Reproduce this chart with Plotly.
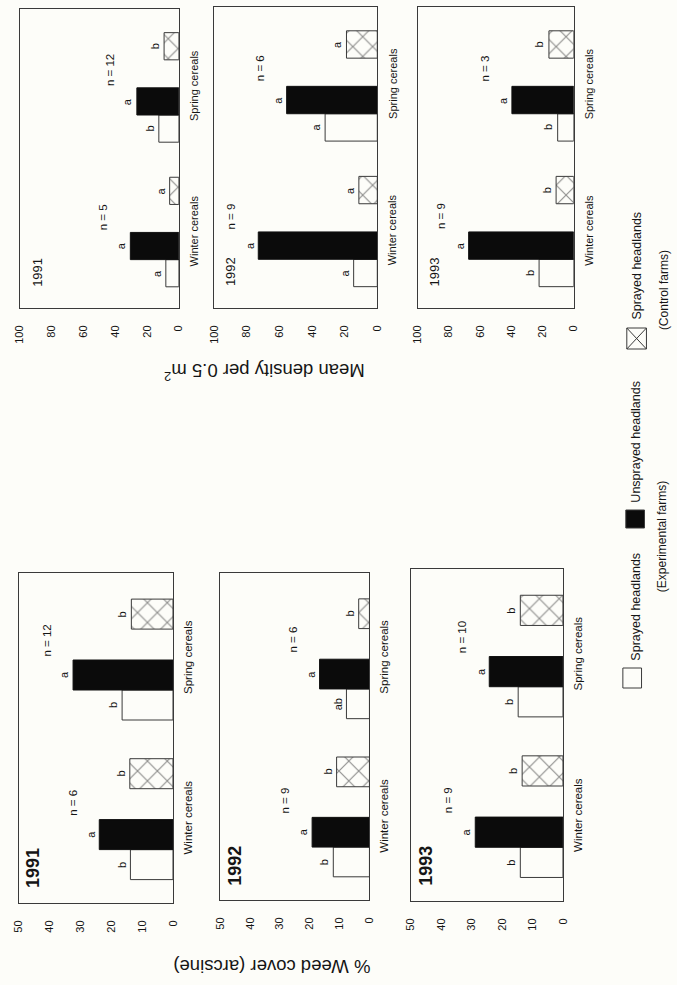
import plotly.graph_objects as go

# ---------------- data ----------------
years = ["1991", "1992", "1993"]
categories = ["Winter cereals", "Spring cereals"]

# Mean density per 0.5 m2 ; per year: [winter, spring]
density_sprayed = [[8.2, 12.6], [14.5, 32.0], [22.2, 10.3]]
density_unsprayed = [[30.5, 26.4], [73.0, 55.6], [67.3, 39.6]]
density_control = [[5.8, 9.3], [11.3, 18.9], [11.3, 15.9]]
density_letters_sprayed = [["a", "b"], ["a", "a"], ["b", "b"]]
density_letters_unsprayed = [["a", "a"], ["a", "a"], ["a", "a"]]
density_letters_control = [["a", "b"], ["a", "a"], ["b", "b"]]
density_n = [[5, 12], [9, 6], [9, 3]]

# % weed cover (arcsine) ; per year: [winter, spring]
cover_sprayed = [[13.8, 16.5], [12.1, 7.7], [14.0, 14.7]]
cover_unsprayed = [[23.9, 32.4], [19.2, 16.7], [28.8, 24.2]]
cover_control = [[14.0, 13.5], [11.0, 3.6], [13.4, 14.0]]
cover_letters_sprayed = [["b", "b"], ["b", "ab"], ["b", "b"]]
cover_letters_unsprayed = [["a", "a"], ["a", "a"], ["a", "a"]]
cover_letters_control = [["b", "b"], ["b", "b"], ["b", "b"]]
cover_n = [[6, 12], [9, 6], [9, 10]]

density_ticks = [0, 20, 40, 60, 80, 100]
cover_ticks = [0, 10, 20, 30, 40, 50]

legend_labels = ["Sprayed headlands", "Unsprayed headlands", "Sprayed headlands"]
legend_groups = ["(Experimental farms)", "(Control farms)"]
density_title = "Mean density per 0.5 m<sup>2</sup>"
cover_title = "% Weed cover (arcsine)"

# ---------------- layout helpers ----------------
W, H = 677, 985
BG = "#fdfdf9"
LINE = "#3a3a3a"
TXT = "#151515"
FONT = "Liberation Sans, Arial, Helvetica, sans-serif"


def px_x(x):
    return x / W


def px_y(y):
    return 1 - y / H


# panel pixel boxes (left, right, top, bottom) in the picture
panels = [
    (14, 176, 9, 308), (212, 378, 7, 308), (419, 578, 7, 308),
    (13, 170, 573, 903), (218, 370, 573, 900), (412, 567, 569, 901),
]

# bar placement along the category axis
Y_RANGE = [0, 11]
CAT_STEP = 5.32
FIRST = 1.28
SERIES_OFF = [0.0, 1.0, 3.03]
BAR_W = 1.0
CAT_LABEL_Y = [2.85, 8.2]
N_LABEL_Y = [3.35, 8.75]

fig = go.Figure()
annotations = []
shapes = []


def ann(**kw):
    base = dict(showarrow=False, xanchor="center", yanchor="middle")
    base.update(kw)
    annotations.append(base)


series_style = [
    dict(color=BG, line=dict(color=LINE, width=1)),
    dict(color="#0b0b0b", line=dict(color="#111", width=1)),
    dict(color=BG, line=dict(color=LINE, width=1),
         pattern=dict(shape="x", size=14, solidity=0.16, fgcolor="#222", bgcolor=BG)),
]

datasets = [
    (density_sprayed, density_unsprayed, density_control,
     density_letters_sprayed, density_letters_unsprayed, density_letters_control,
     density_n, density_ticks),
    (cover_sprayed, cover_unsprayed, cover_control,
     cover_letters_sprayed, cover_letters_unsprayed, cover_letters_control,
     cover_n, cover_ticks),
]

layout_axes = {}
for block, ds in enumerate(datasets):
    s_vals = ds[0:3]
    s_lets = ds[3:6]
    n_vals = ds[6]
    ticks = ds[7]
    for yi, year in enumerate(years):
        k = block * 3 + yi + 1
        xa = "x" if k == 1 else f"x{k}"
        ya = "y" if k == 1 else f"y{k}"
        left, right, top, bottom = panels[k - 1]
        layout_axes[f"xaxis{'' if k == 1 else k}"] = dict(
            domain=[px_x(left), px_x(right)], anchor=ya,
            range=[ticks[-1], 0], tickvals=ticks,
            ticktext=[str(t) for t in ticks],
            tickangle=-90, ticks="outside", ticklen=12,
            tickcolor="rgba(0,0,0,0)",
            tickfont=dict(size=11, color=TXT, family=FONT),
            showline=True, mirror=True, linecolor=LINE, linewidth=1,
            showgrid=False, zeroline=False, fixedrange=True,
        )
        layout_axes[f"yaxis{'' if k == 1 else k}"] = dict(
            domain=[px_y(bottom), px_y(top)], anchor=xa,
            range=Y_RANGE, showticklabels=False, ticks="",
            showline=True, mirror=True, linecolor=LINE, linewidth=1,
            showgrid=False, zeroline=False, fixedrange=True,
        )
        for si in range(3):
            vals = s_vals[si][yi]
            pos = [FIRST + CAT_STEP * ci + SERIES_OFF[si] for ci in range(len(categories))]
            fig.add_trace(go.Bar(
                x=vals, y=pos, orientation="h", width=BAR_W,
                marker=series_style[si], xaxis=xa, yaxis=ya,
                showlegend=False, hoverinfo="skip",
            ))
            for ci in range(len(categories)):
                ann(x=vals[ci], y=pos[ci], xref=xa, yref=ya, xshift=-9,
                    text=s_lets[si][yi][ci], textangle=-90,
                    font=dict(size=11, color=TXT, family=FONT))
        for ci in range(len(categories)):
            # n labels above the unsprayed bars
            ann(x=s_vals[1][yi][ci], y=N_LABEL_Y[ci], xref=xa, yref=ya, xshift=-27,
                text=f"n = {n_vals[yi][ci]}", textangle=-90,
                font=dict(size=11.5, color=TXT, family=FONT))
            # category labels
            ann(x=1, y=CAT_LABEL_Y[ci], xref=f"{xa} domain", yref=ya, xshift=15,
                text=categories[ci], textangle=-90,
                font=dict(size=11.5 if block else 11, color=TXT, family=FONT))
        # year label
        ann(x=0, y=0.12 if block == 0 else 0.105, xref=f"{xa} domain", yref=f"{ya} domain",
            xshift=17 if block == 0 else 15, text=f"<b>{year}</b>" if block else year,
            textangle=-90, font=dict(size=18 if block else 13, color=TXT, family=FONT))

# axis titles (upside down, as in the rotated page)
ann(x=px_x(263), y=px_y(372), xref="paper", yref="paper",
    text=density_title, textangle=180, font=dict(size=18.5, color=TXT, family=FONT))
ann(x=px_x(271), y=px_y(967), xref="paper", yref="paper",
    text=cover_title, textangle=180, font=dict(size=18.5, color=TXT, family=FONT))

# legend (rotated) : swatches + texts
sw = [(628, 647, 668, 688), (631, 650, 510, 528), (632, 652, 328, 349)]
sw_fill = [BG, "#0b0b0b", BG]
for i, (x0, x1, y0, y1) in enumerate(sw):
    shapes.append(dict(type="rect", xref="paper", yref="paper",
                       x0=px_x(x0), x1=px_x(x1), y0=px_y(y1), y1=px_y(y0),
                       line=dict(color=LINE, width=1), fillcolor=sw_fill[i]))
x0, x1, y0, y1 = sw[2]
shapes.append(dict(type="line", xref="paper", yref="paper",
                   x0=px_x(x0), x1=px_x(x1), y0=px_y(y1), y1=px_y(y0),
                   line=dict(color=LINE, width=1)))
shapes.append(dict(type="line", xref="paper", yref="paper",
                   x0=px_x(x0), x1=px_x(x1), y0=px_y(y0), y1=px_y(y1),
                   line=dict(color=LINE, width=1)))

legend_text_pos = [(641, 607), (641, 442), (642, 266)]
for i, (lx, ly) in enumerate(legend_text_pos):
    ann(x=px_x(lx), y=px_y(ly), xref="paper", yref="paper",
        text=legend_labels[i], textangle=-90,
        font=dict(size=12.5, color=TXT, family=FONT))
for (gx, gy), g in zip([(668, 537), (670, 290)], legend_groups):
    ann(x=px_x(gx), y=px_y(gy), xref="paper", yref="paper",
        text=g, textangle=-90, font=dict(size=12, color=TXT, family=FONT))

fig.update_layout(
    width=W, height=H, autosize=False,
    margin=dict(l=0, r=0, t=0, b=0),
    paper_bgcolor=BG, plot_bgcolor=BG,
    barmode="overlay", showlegend=False,
    annotations=annotations, shapes=shapes,
    font=dict(family=FONT, color=TXT),
    **layout_axes,
)

fig.write_html("out.html", config={"displayModeBar": False})
